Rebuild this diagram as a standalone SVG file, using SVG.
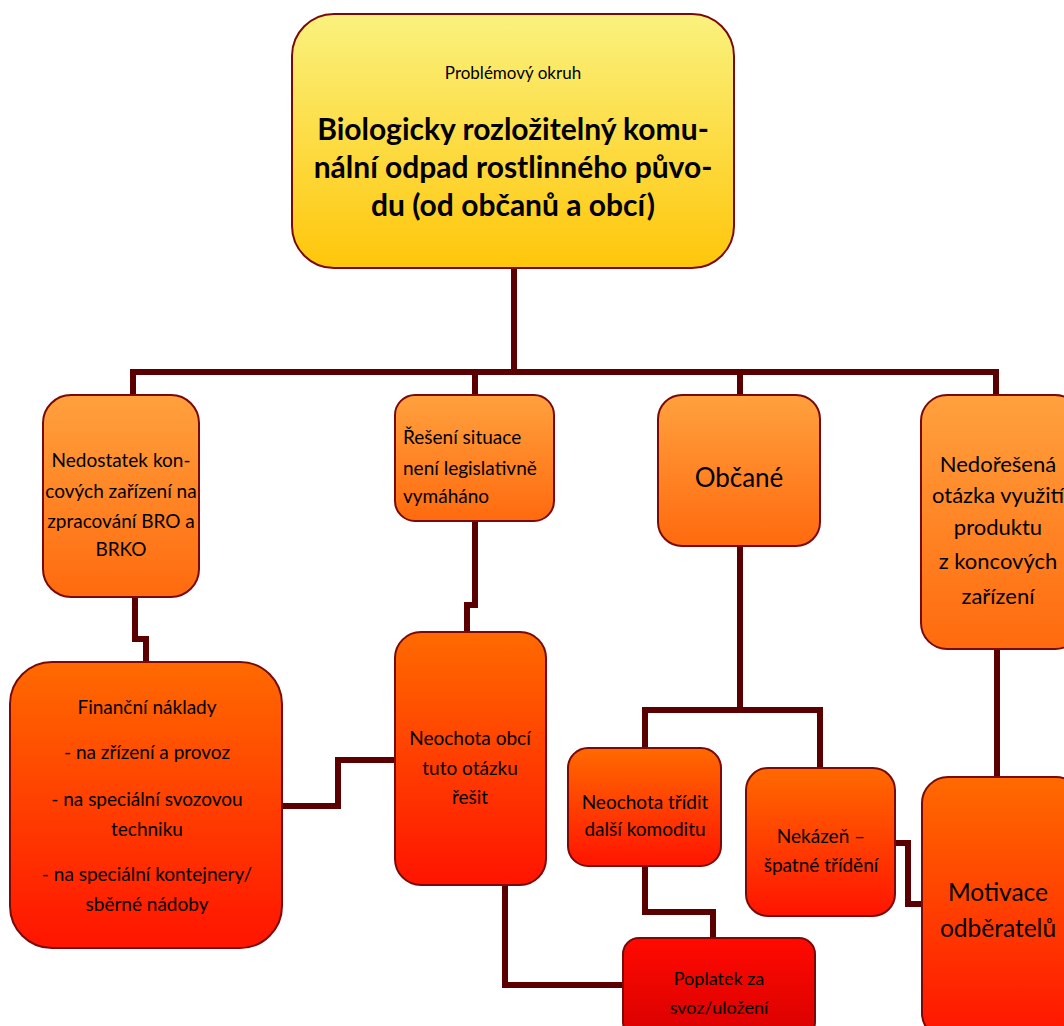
<svg xmlns="http://www.w3.org/2000/svg" width="1064" height="1026" viewBox="0 0 1064 1026">
<defs>
<linearGradient id="gY" x1="0" y1="0" x2="0" y2="1"><stop offset="0" stop-color="#FAF27E"/><stop offset="1" stop-color="#FFC60A"/></linearGradient>
<linearGradient id="gO1" x1="0" y1="0" x2="0" y2="1"><stop offset="0" stop-color="#FFA13E"/><stop offset="1" stop-color="#FF6A0E"/></linearGradient>
<linearGradient id="gO2" x1="0" y1="0" x2="0" y2="1"><stop offset="0" stop-color="#FF6A00"/><stop offset="1" stop-color="#FF1400"/></linearGradient>
<linearGradient id="gR" x1="0" y1="0" x2="0" y2="1"><stop offset="0" stop-color="#FF0A00"/><stop offset="1" stop-color="#D80000"/></linearGradient>
<style>
.box{stroke:#7A0A0A;stroke-width:2}
.c{fill:none;stroke:#5A0000;stroke-width:6;stroke-linejoin:miter}
text{font-family:Lato,"Open Sans","Liberation Sans",sans-serif;fill:#000;text-anchor:middle}
.t{font-size:19px}
.b{font-size:30px;font-weight:bold}
</style>
</defs>
<g id="connectors">
<path class="c" d="M514,268 V372"/>
<path class="c" d="M133,395 V372 H996 V395"/>
<path class="c" d="M475,372 V395"/>
<path class="c" d="M740,372 V395"/>
<path class="c" d="M135,597 V639 H146 V662"/>
<path class="c" d="M475,521 V605 H467 V632"/>
<path class="c" d="M282,806 H338 V760 H395"/>
<path class="c" d="M505,885 V985 H624"/>
<path class="c" d="M740,546 V710 M645,748 V710 H820 V768"/>
<path class="c" d="M645,866 V912 H713 V938"/>
<path class="c" d="M895,843 H908 V904 H922"/>
<path class="c" d="M997,649 V777"/>
</g>
<g id="n0"><rect class="box" x="292" y="14" width="442" height="254" rx="42" fill="url(#gY)"/>
<text x="513" y="79" style="font-size:17px">Problémový okruh</text>
<text class="b" x="513" y="140">Biologicky rozložitelný komu-</text>
<text class="b" x="513" y="178">nální odpad rostlinného půvo-</text>
<text class="b" x="513" y="216">du (od občanů a obcí)</text></g>
<g id="n1"><rect class="box" x="43" y="395" width="156" height="202" rx="28" fill="url(#gO1)"/>
<text class="t" x="121" y="467">Nedostatek kon-</text>
<text class="t" x="121" y="498">cových zařízení na</text>
<text class="t" x="121" y="528">zpracování BRO a</text>
<text class="t" x="121" y="556">BRKO</text></g>
<g id="n2"><rect class="box" x="395" y="395" width="159" height="126" rx="20" fill="url(#gO1)"/>
<text class="t" x="403" y="444" style="text-anchor:start">Řešení situace</text>
<text class="t" x="403" y="475" style="text-anchor:start">není legislativně</text>
<text class="t" x="403" y="503" style="text-anchor:start">vymáháno</text></g>
<g id="n3"><rect class="box" x="658" y="395" width="162" height="151" rx="24" fill="url(#gO1)"/>
<text x="739" y="487" style="font-size:26px">Občané</text></g>
<g id="n4"><rect class="box" x="921" y="395" width="160" height="254" rx="26" fill="url(#gO1)"/>
<text x="998" y="472" style="font-size:22px">Nedořešená</text>
<text x="998" y="503" style="font-size:22px">otázka využití</text>
<text x="998" y="535" style="font-size:22px">produktu</text>
<text x="998" y="569" style="font-size:22px">z koncových</text>
<text x="998" y="604" style="font-size:22px">zařízení</text></g>
<g id="n5"><rect class="box" x="10" y="662" width="272" height="286" rx="42" fill="url(#gO2)"/>
<text class="t" x="147" y="714">Finanční náklady</text>
<text class="t" x="147" y="759">- na zřízení a provoz</text>
<text class="t" x="147" y="806">- na speciální svozovou</text>
<text class="t" x="147" y="836">techniku</text>
<text class="t" x="147" y="881">- na speciální kontejnery/</text>
<text class="t" x="147" y="911">sběrné nádoby</text></g>
<g id="n6"><rect class="box" x="395" y="632" width="151" height="253" rx="26" fill="url(#gO2)"/>
<text class="t" x="470" y="745">Neochota obcí</text>
<text class="t" x="470" y="775">tuto otázku</text>
<text class="t" x="470" y="804">řešit</text></g>
<g id="n7"><rect class="box" x="568" y="748" width="153" height="118" rx="20" fill="url(#gO2)"/>
<text class="t" x="645" y="809">Neochota třídit</text>
<text class="t" x="645" y="836">další komoditu</text></g>
<g id="n8"><rect class="box" x="746" y="768" width="149" height="148" rx="22" fill="url(#gO2)"/>
<text class="t" x="821" y="843">Nekázeň –</text>
<text class="t" x="821" y="872">špatné třídění</text></g>
<g id="n9"><rect class="box" x="922" y="777" width="160" height="262" rx="26" fill="url(#gO2)"/>
<text x="998" y="901" style="font-size:24.5px">Motivace</text>
<text x="998" y="937" style="font-size:24.5px">odběratelů</text></g>
<g id="n10"><rect class="box" x="623" y="938" width="192" height="100" rx="16" fill="url(#gR)"/>
<text x="719" y="985" style="font-size:18px">Poplatek za</text>
<text x="719" y="1014" style="font-size:18px">svoz/uložení</text></g>
</svg>
